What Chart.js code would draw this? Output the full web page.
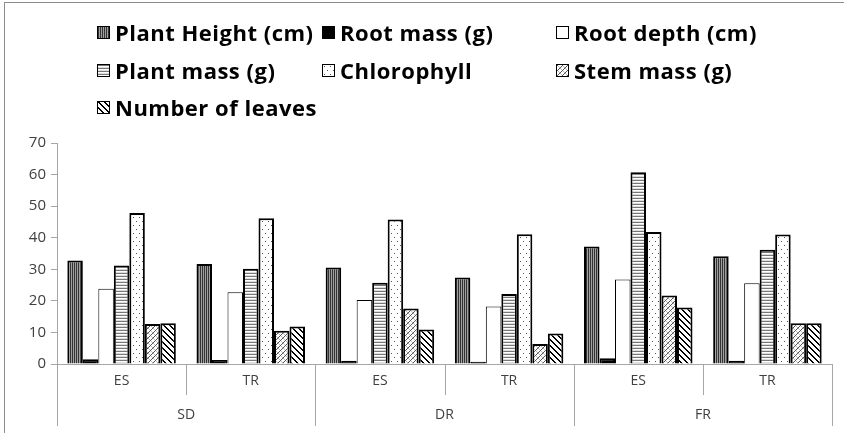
<!DOCTYPE html>
<html>
<head>
<meta charset="utf-8">
<script src="https://cdn.jsdelivr.net/npm/chart.js@4.4.0/dist/chart.umd.min.js"></script>
<style>
html, body { margin: 0; padding: 0; background: #fff; }
#wrap { position: relative; width: 844px; height: 433px; overflow: hidden; }
#frame { position: absolute; left: 4px; top: 2px; right: -10px; bottom: -10px; border-top: 1px solid #8c8c8c; border-left: 1px solid #8c8c8c; }
#chart { position: absolute; left: 0; top: 0; }
#legend { position: absolute; left: 0; top: 0; width: 844px; height: 130px; font: bold 22px 'Open Sans', sans-serif; letter-spacing: 0.5px; color: #000; }
.item { position: absolute; height: 30px; display: flex; align-items: center; white-space: nowrap; }
.item canvas { border: 1px solid #000; margin-right: 5px; }
</style>
</head>
<body>
<div id="wrap">
  <div id="frame"></div>
  <div id="chart"><canvas id="c" width="844" height="433"></canvas></div>
  <div id="legend"></div>
</div>
<script>
// categories
var groups = ['SD', 'DR', 'FR'];
var treatments = ['ES', 'TR', 'ES', 'TR', 'ES', 'TR'];

// series
var plantHeight = [32.8, 31.7, 30.6, 27.4, 37.2, 34.1];
var rootMass    = [1.5, 1.3, 1.0, 0.7, 1.8, 1.0];
var rootDepth   = [23.8, 22.7, 20.3, 18.2, 26.8, 25.6];
var plantMass   = [31.2, 30.2, 25.7, 22.2, 60.7, 36.2];
var chlorophyll = [47.8, 46.2, 45.8, 41.1, 41.8, 41.0];
var stemMass    = [12.7, 10.5, 17.6, 6.3, 21.7, 12.9];
var leaves      = [12.9, 11.9, 10.9, 9.7, 17.9, 12.9];

var yMin = 0, yMax = 70, yStep = 10;

// fill patterns, pixel by pixel
function makeTile(kind) {
	var sizes = { vert: [2, 1], horiz: [1, 3], dots: [6, 8], hatch: [5, 5], diag: [6, 6] };
	var s = sizes[kind];
	var c = document.createElement('canvas');
	c.width = s[0]; c.height = s[1];
	var g = c.getContext('2d');
	g.fillStyle = '#fff';
	g.fillRect(0, 0, s[0], s[1]);
	for (var x = 0; x < s[0]; x++) {
		for (var y = 0; y < s[1]; y++) {
			var col = null;
			if (kind == 'vert') col = x == 0 ? '#333' : '#a0a0a0';
			if (kind == 'horiz') col = y == 0 ? '#777' : (y == 2 ? '#ddd' : null);
			if (kind == 'dots') {
				if ((x == 1 && y == 1) || (x == 4 && y == 5)) col = '#555';
			}
			if (kind == 'hatch') {
				if ((x + y) % 5 == 0) col = '#555';
				else if (((x - y) % 5 + 5) % 5 == 0) col = '#bbb';
			}
			if (kind == 'diag') {
				var d = ((x - y) % 6 + 6) % 6;
				if (d < 2) col = '#000';
			}
			if (col) { g.fillStyle = col; g.fillRect(x, y, 1, 1); }
		}
	}
	return c;
}

function pattern(kind) {
	var g = document.createElement('canvas').getContext('2d');
	return g.createPattern(makeTile(kind), 'repeat');
}

var series = [
	{ label: 'Plant Height (cm)', data: plantHeight, fill: 'vert', bw: 2 },
	{ label: 'Root mass (g)', data: rootMass, fill: '#000', bw: 2 },
	{ label: 'Root depth (cm)', data: rootDepth, fill: '#fff', bw: 1 },
	{ label: 'Plant mass (g)', data: plantMass, fill: 'horiz', bw: 2 },
	{ label: 'Chlorophyll', data: chlorophyll, fill: 'dots', bw: 2 },
	{ label: 'Stem mass (g)', data: stemMass, fill: 'hatch', bw: 2 },
	{ label: 'Number of leaves', data: leaves, fill: 'diag', bw: 2 }
];

function fillFor(f) {
	return f.charAt(0) == '#' ? f : pattern(f);
}

var datasets = series.map(function(s) {
	return {
		label: s.label,
		data: s.data,
		backgroundColor: fillFor(s.fill),
		borderColor: '#000',
		borderWidth: s.bw,
		barPercentage: 1,
		categoryPercentage: 0.84
	};
});

// two-level category axis under the bars
var groupAxis = {
	id: 'groupAxis',
	afterDraw: function(chart) {
		var x = chart.scales.x, ctx = chart.ctx, base = chart.chartArea.bottom;
		var step = x.getPixelForValue(1) - x.getPixelForValue(0);
		ctx.save();
		ctx.strokeStyle = '#a6a6a6';
		ctx.lineWidth = 1;
		for (var i = 0; i <= treatments.length; i++) {
			var px = Math.round(x.getPixelForValue(i) - step / 2) + 0.5;
			ctx.beginPath();
			ctx.moveTo(px, base);
			ctx.lineTo(px, base + (i % 2 == 0 ? 62 : 31));
			ctx.stroke();
		}
		ctx.fillStyle = '#404040';
		ctx.font = "14px 'Liberation Sans Narrow', 'Open Sans', sans-serif";
		ctx.textAlign = 'center';
		ctx.textBaseline = 'middle';
		treatments.forEach(function(t, i) {
			ctx.fillText(t, x.getPixelForValue(i), base + 17);
		});
		groups.forEach(function(g, i) {
			var cx = (x.getPixelForValue(2 * i) + x.getPixelForValue(2 * i + 1)) / 2;
			ctx.fillText(g, cx, base + 51);
		});
		ctx.restore();
	}
};

new Chart(document.getElementById('c'), {
	type: 'bar',
	data: { labels: treatments, datasets: datasets },
	plugins: [groupAxis],
	options: {
		responsive: false,
		animation: false,
		layout: { padding: { top: 143, left: 0, right: 12, bottom: 69 } },
		plugins: { legend: { display: false }, tooltip: { enabled: false } },
		scales: {
			x: {
				ticks: { display: false },
				grid: { display: false, drawTicks: false },
				border: { display: true, color: '#a6a6a6' },
				afterFit: function(s) { s.height = 0; }
			},
			y: {
				min: yMin,
				max: yMax,
				ticks: {
					stepSize: yStep,
					color: '#404040',
					padding: 5,
					font: { family: "'Open Sans', sans-serif", size: 15 }
				},
				grid: { drawOnChartArea: false, tickLength: 6, color: '#a6a6a6' },
				border: { color: '#a6a6a6' },
				afterFit: function(s) { s.width = 57; }
			}
		}
	}
});

// legend in three columns, like the original
var legendCols = [97, 322, 556];
var legendRows = [32, 70, 107];
var legend = document.getElementById('legend');
series.forEach(function(s, i) {
	var item = document.createElement('div');
	item.className = 'item';
	item.style.left = legendCols[i % 3] + 'px';
	item.style.top = (legendRows[Math.floor(i / 3)] - 15) + 'px';
	var sw = document.createElement('canvas');
	sw.width = 11; sw.height = 11;
	var g = sw.getContext('2d');
	g.fillStyle = s.fill.charAt(0) == '#' ? s.fill : g.createPattern(makeTile(s.fill), 'repeat');
	g.fillRect(0, 0, 11, 11);
	item.appendChild(sw);
	var t = document.createElement('span');
	t.textContent = s.label;
	item.appendChild(t);
	legend.appendChild(item);
});
</script>
</body>
</html>
